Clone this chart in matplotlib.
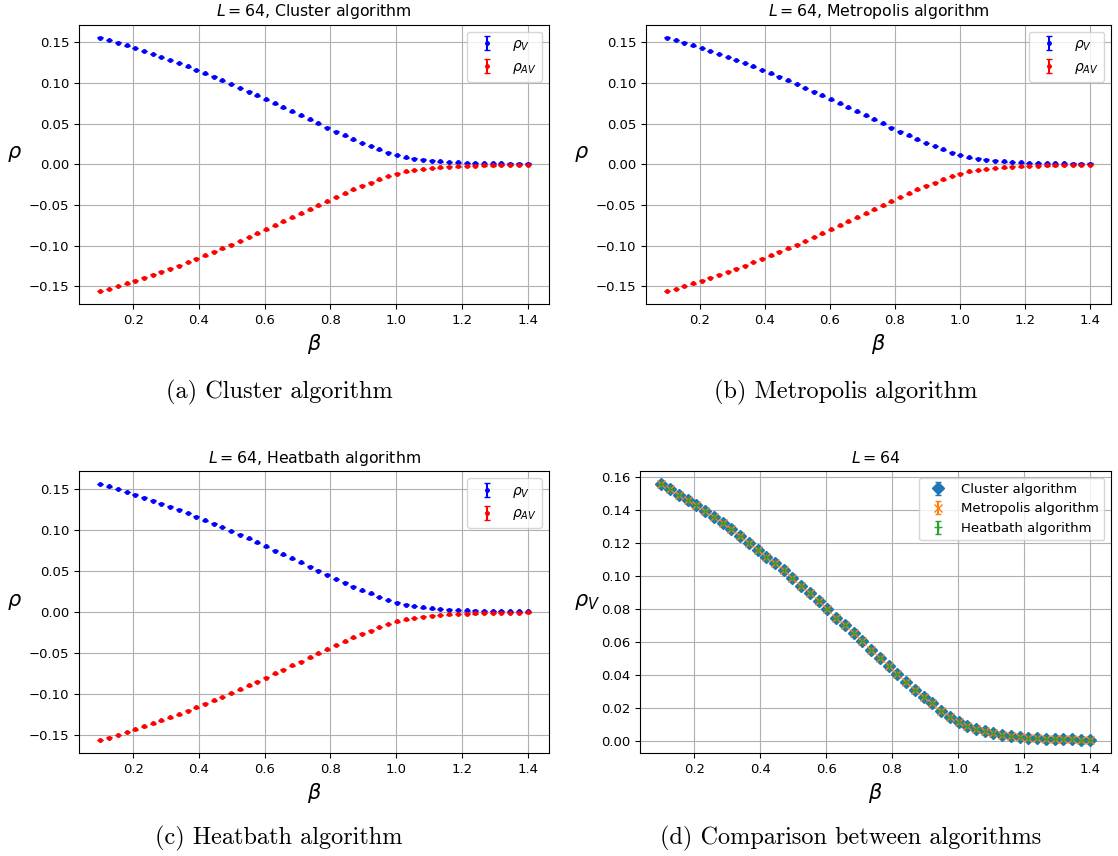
import numpy as np
import matplotlib
matplotlib.use("Agg")
import matplotlib.pyplot as plt

# beta grid: 50 points between 0.1 and 1.4
beta = np.linspace(0.1, 1.4, 50)

rho_V = [0.1555, 0.1529, 0.1494, 0.1461, 0.1429, 0.1392, 0.1355, 0.1318, 0.1282, 0.1243,
         0.1202, 0.1159, 0.1116, 0.1076, 0.1033, 0.0986, 0.0939, 0.0894, 0.0847, 0.0798,
         0.0747, 0.0700, 0.0651, 0.0602, 0.0551, 0.0503, 0.0452, 0.0403, 0.0355, 0.0308,
         0.0263, 0.0225, 0.0182, 0.0144, 0.0113, 0.0087, 0.0071, 0.0057, 0.0045, 0.0036,
         0.0028, 0.0024, 0.0018, 0.0016, 0.0012, 0.0012, 0.0010, 0.0008, 0.0006, 0.0006]

rho_AV = [-0.1556, -0.1530, -0.1495, -0.1462, -0.1428, -0.1393, -0.1356, -0.1317, -0.1283, -0.1244,
          -0.1201, -0.1160, -0.1117, -0.1075, -0.1034, -0.0987, -0.0940, -0.0893, -0.0848, -0.0799,
          -0.0748, -0.0701, -0.0650, -0.0603, -0.0552, -0.0504, -0.0453, -0.0402, -0.0356, -0.0309,
          -0.0264, -0.0226, -0.0183, -0.0145, -0.0114, -0.0088, -0.0072, -0.0058, -0.0046, -0.0037,
          -0.0029, -0.0024, -0.0019, -0.0016, -0.0013, -0.0012, -0.0010, -0.0008, -0.0007, -0.0006]

rho_err = [0.0004] * 50

algorithms = ["Cluster", "Metropolis", "Heatbath"]
captions = ["(a) Cluster algorithm", "(b) Metropolis algorithm",
            "(c) Heatbath algorithm", "(d) Comparison between algorithms"]

FS = 9.5

fig = plt.figure(figsize=(11.18, 8.56), dpi=100)
W, H = 1118.0, 856.0


def add_axes(l, r, t, b):
    return fig.add_axes([l / W, 1 - b / H, (r - l) / W, (b - t) / H])


boxes = [(79, 549, 24.7, 304), (646, 1111, 24.7, 304),
         (79, 549, 471, 753), (640, 1111, 471, 753)]

for k, alg in enumerate(algorithms):
    ax = add_axes(*boxes[k])
    ax.errorbar(beta, rho_V, yerr=rho_err, fmt='b.', ms=5, capsize=2, label=r'$\rho_V$')
    ax.errorbar(beta, rho_AV, yerr=rho_err, fmt='r.', ms=5, capsize=2, label=r'$\rho_{AV}$')
    ax.set_title(r'$L=64$, ' + alg + ' algorithm', fontsize=11.3)
    ax.set_xlabel(r'$\beta$', fontsize=15)
    ax.set_ylabel(r'$\rho$', fontsize=15, rotation=0, labelpad=10)
    ax.tick_params(labelsize=FS)
    ax.grid(True)
    ax.legend(loc='upper right', fontsize=FS + 0.5)

ax = add_axes(*boxes[3])
ax.errorbar(beta, rho_V, yerr=rho_err, fmt='D', capsize=2, label='Cluster algorithm')
ax.errorbar(beta, rho_V, yerr=rho_err, fmt='x', capsize=2, label='Metropolis algorithm')
ax.errorbar(beta, rho_V, yerr=rho_err, fmt='+', capsize=2, label='Heatbath algorithm')
ax.set_title(r'$L=64$', fontsize=11.3)
ax.set_xlabel(r'$\beta$', fontsize=15)
ax.set_ylabel(r'$\rho_V$', fontsize=15, rotation=0, labelpad=10)
ax.tick_params(labelsize=FS)
ax.grid(True)
ax.legend(loc='upper right', fontsize=FS)

cap_pos = [(279, 392), (846, 392), (279, 838), (851, 838)]
for (x, y), c in zip(cap_pos, captions):
    fig.text(x / W, 1 - y / H, c, ha='center', va='center',
             fontsize=17.5, family='cmr10')

fig.savefig('out.png', dpi=100)
